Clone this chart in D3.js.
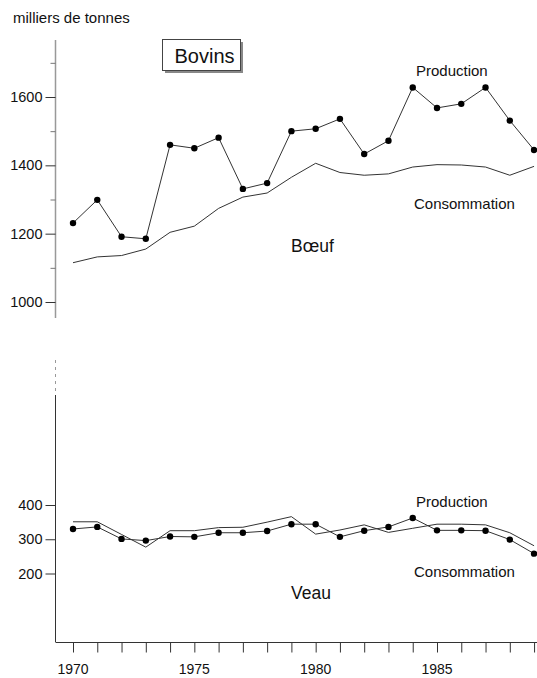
<!DOCTYPE html>
<html><head><meta charset="utf-8">
<script src="https://cdn.jsdelivr.net/npm/d3@7"></script>
<style>
body{margin:0;background:#fff;}
text{font-family:"Liberation Sans",Arial,Helvetica,sans-serif;fill:#111;}
</style></head>
<body><svg id="c" width="537" height="678"></svg>
<script>
const years = d3.range(1970, 1990);
const yearLabels = [1970, 1975, 1980, 1985];
const boeufProduction = [1231,1299,1191,1185,1460,1450,1481,1331,1348,1500,1507,1536,1433,1472,1628,1568,1580,1628,1531,1445];
const boeufConsommation = [1115,1132,1136,1155,1204,1222,1274,1307,1319,1365,1406,1379,1371,1375,1395,1402,1401,1395,1371,1397];
const veauProduction = [330,336,301,296,308,307,319,319,324,344,344,307,325,336,362,326,326,325,299,258];
const veauConsommation = [351,351,314,277,325,325,334,335,350,366,315,327,342,320,332,344,344,342,319,281];
const boeufTicks = [1000,1200,1400,1600];
const boeufMinor = [1100,1300,1500,1700];
const veauTicks = [200,300,400];

const svg = d3.select("#c");
const axisX = 55.5;
const x = d3.scaleLinear().domain([1970, 1985]).range([73, 437]);
const yTop = d3.scaleLinear().domain([1000, 1600]).range([302, 97]);
const yBot = d3.scaleLinear().domain([200, 400]).range([573.5, 505]);
const ink = "#333";
const fsSmall = 14.5;

// title
svg.append("text").attr("x", 13).attr("y", 23).attr("font-size", 15).text("milliers de tonnes");

// Bovins box with shadow
svg.append("rect").attr("x", 165).attr("y", 42).attr("width", 78).attr("height", 31).attr("fill", "#888");
svg.append("rect").attr("x", 162.5).attr("y", 39.5).attr("width", 78).attr("height", 31).attr("fill", "#fff").attr("stroke", "#444").attr("stroke-width", 1);
svg.append("text").attr("x", 204.5).attr("y", 63).attr("text-anchor", "middle").attr("font-size", 20).text("Bovins");

// top y axis
svg.append("line").attr("x1", axisX).attr("x2", axisX).attr("y1", 40).attr("y2", 318).attr("stroke", "#999").attr("stroke-width", 1.5);
const gTop = svg.append("g").attr("transform", `translate(${axisX},0)`)
  .call(d3.axisLeft(yTop).tickValues(boeufTicks).tickSize(10).tickPadding(3).tickFormat(d3.format("d")));
gTop.select(".domain").remove();
gTop.selectAll("line").attr("stroke", ink);
gTop.selectAll("text").attr("font-size", fsSmall).attr("fill", "#111").attr("font-family", "Liberation Sans, Arial, sans-serif");
const gTopMinor = svg.append("g").attr("transform", `translate(${axisX},0)`)
  .call(d3.axisLeft(yTop).tickValues(boeufMinor).tickSize(5).tickFormat(""));
gTopMinor.select(".domain").remove();
gTopMinor.selectAll("line").attr("stroke", "#777");

// bottom y axis
svg.append("line").attr("x1", axisX).attr("x2", axisX).attr("y1", 360).attr("y2", 395).attr("stroke", "#999").attr("stroke-width", 1).attr("stroke-dasharray", "3,4");
svg.append("line").attr("x1", axisX).attr("x2", axisX).attr("y1", 395).attr("y2", 642).attr("stroke", ink).attr("stroke-width", 1);
const gBot = svg.append("g").attr("transform", `translate(${axisX},0)`)
  .call(d3.axisLeft(yBot).tickValues(veauTicks).tickSize(10).tickPadding(3).tickFormat(d3.format("d")));
gBot.select(".domain").remove();
gBot.selectAll("line").attr("stroke", ink);
gBot.selectAll("text").attr("font-size", fsSmall).attr("fill", "#111").attr("font-family", "Liberation Sans, Arial, sans-serif");

// x axis
svg.append("line").attr("x1", axisX).attr("x2", 537).attr("y1", 642.5).attr("y2", 642.5).attr("stroke", ink);
const gX = svg.append("g").attr("transform", "translate(0,642.5)")
  .call(d3.axisBottom(x).tickValues(years).tickSize(10).tickFormat(""));
gX.select(".domain").remove();
gX.selectAll("line").attr("stroke", ink);
svg.selectAll(".ylab").data(yearLabels).enter().append("text")
  .attr("x", d => x(d)).attr("y", 674).attr("text-anchor", "middle").attr("font-size", 14).text(d => d);

// lines
function drawSeries(vals, yScale, dots) {
  const pts = years.map((yr, i) => [yr, vals[i]]);
  svg.append("path").datum(pts)
    .attr("d", d3.line().x(d => x(d[0])).y(d => yScale(d[1])))
    .attr("fill", "none").attr("stroke", ink).attr("stroke-width", 1);
  if (dots) {
    svg.append("g").selectAll("circle").data(pts).enter().append("circle")
      .attr("cx", d => x(d[0])).attr("cy", d => yScale(d[1])).attr("r", 3.2).attr("fill", "#000");
  }
}
drawSeries(boeufConsommation, yTop, false);
drawSeries(boeufProduction, yTop, true);
drawSeries(veauConsommation, yBot, false);
drawSeries(veauProduction, yBot, true);

// labels
const lab = (t, xx, yy, fs) => svg.append("text").attr("x", xx).attr("y", yy).attr("font-size", fs).text(t);
lab("Production", 416, 76, 15);
lab("Consommation", 414, 208.5, 15);
lab("Bœuf", 291, 252, 17.5);
lab("Production", 416, 506.5, 15);
lab("Consommation", 414, 577, 15);
lab("Veau", 291, 599, 17.5);
</script></body></html>
